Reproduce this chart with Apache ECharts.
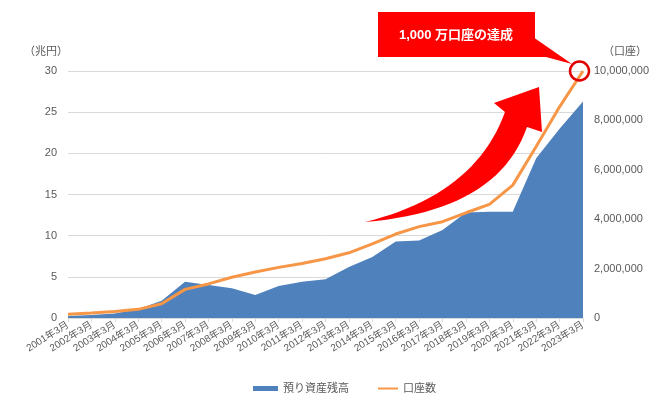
<!DOCTYPE html>
<html>
<head>
<meta charset="utf-8">
<script src="https://cdn.jsdelivr.net/npm/echarts@6/dist/echarts.min.js"></script>
<style>
html,body{margin:0;padding:0;background:#fff;}
#chart{width:667px;height:399px;}
</style>
</head>
<body>
<div id="chart"></div>
<script>
const categories = ['2001年3月','2002年3月','2003年3月','2004年3月','2005年3月','2006年3月','2007年3月','2008年3月','2009年3月','2010年3月','2011年3月','2012年3月','2013年3月','2014年3月','2015年3月','2016年3月','2017年3月','2018年3月','2019年3月','2020年3月','2021年3月','2022年3月','2023年3月'];
const assets = [0.25, 0.35, 0.55, 1.1, 2.1, 4.4, 4.0, 3.6, 2.8, 3.9, 4.4, 4.7, 6.2, 7.4, 9.3, 9.4, 10.7, 12.8, 12.9, 12.9, 19.4, 23.0, 26.3];
const accounts = [150000, 200000, 260000, 350000, 580000, 1160000, 1380000, 1650000, 1860000, 2050000, 2210000, 2400000, 2640000, 3000000, 3400000, 3700000, 3900000, 4260000, 4600000, 5380000, 6940000, 8550000, 10000000];
const leftTicks = {min: 0, max: 30, interval: 5};
const rightTicks = {min: 0, max: 10000000, interval: 2000000};
const seriesNames = ['預り資産残高', '口座数'];
const calloutText = '1,000 万口座の達成';

const FONT = '"Liberation Sans", Arial, "Noto Sans CJK JP", sans-serif';
const GREY = '#595959';
function commas(v){ return String(v).replace(/\B(?=(\d{3})+(?!\d))/g, ','); }

// decorative curved arrow outline (quadratic curves sampled into a polygon)
function quad(p0, c, p1, n){
  const pts = [];
  for (let i = 0; i <= n; i++) {
    const t = i / n, u = 1 - t;
    pts.push([u*u*p0[0] + 2*u*t*c[0] + t*t*p1[0], u*u*p0[1] + 2*u*t*c[1] + t*t*p1[1]]);
  }
  return pts;
}
const arrowPts = [].concat(
  quad([365,222], [475,195], [505,112], 24),
  [[494,103],[539,87],[542,132]],
  quad([527,127], [498,211], [365,222], 24)
);

const chart = echarts.init(document.getElementById('chart'), null, {renderer: 'canvas'});
chart.setOption({
  animation: false,
  textStyle: {fontFamily: FONT},
  grid: {left: 68, right: 84, top: 71, bottom: 81},
  legend: [
    {data: [seriesNames[0]], left: 248, top: 378, icon: 'rect', itemWidth: 25, itemHeight: 5, itemGap: 0,
     textStyle: {color: GREY, fontSize: 11, fontFamily: FONT}},
    {data: [seriesNames[1]], left: 373, top: 378, icon: 'rect', itemWidth: 20, itemHeight: 2, itemGap: 0,
     textStyle: {color: GREY, fontSize: 11, fontFamily: FONT}}
  ],
  xAxis: {
    type: 'category', data: categories, boundaryGap: false,
    axisLine: {lineStyle: {color: '#d9d9d9'}},
    axisTick: {show: true, length: 4, lineStyle: {color: '#d9d9d9'}},
    axisLabel: {interval: 0, rotate: 32, color: GREY, fontSize: 10, margin: 6, fontFamily: FONT}
  },
  yAxis: [
    {type: 'value', min: leftTicks.min, max: leftTicks.max, interval: leftTicks.interval,
     name: '（兆円）', nameLocation: 'end', nameGap: 14,
     nameTextStyle: {color: GREY, fontSize: 11, align: 'right', fontFamily: FONT},
     axisLine: {show: false}, axisTick: {show: false},
     axisLabel: {color: GREY, fontSize: 11, margin: 11, fontFamily: FONT},
     splitLine: {lineStyle: {color: '#d9d9d9'}}},
    {type: 'value', min: rightTicks.min, max: rightTicks.max, interval: rightTicks.interval,
     name: '（口座）', nameLocation: 'end', nameGap: 14,
     nameTextStyle: {color: GREY, fontSize: 11, align: 'left', padding: [0, 0, 0, 20], fontFamily: FONT},
     axisLine: {show: false}, axisTick: {show: false},
     axisLabel: {color: GREY, fontSize: 11, margin: 11, fontFamily: FONT, formatter: v => commas(v)},
     splitLine: {show: false}}
  ],
  series: [
    {name: seriesNames[0], type: 'line', yAxisIndex: 0, data: assets, symbol: 'none',
     color: '#4F81BD', lineStyle: {width: 0}, areaStyle: {color: '#4F81BD', opacity: 1}, z: 1},
    {name: seriesNames[1], type: 'line', yAxisIndex: 1, data: accounts, symbol: 'none',
     color: '#F79646', lineStyle: {width: 3, color: '#F79646'}, z: 3}
  ],
  graphic: [
    {type: 'polygon', z: 10, shape: {points: arrowPts}, style: {fill: '#FF0000'}},
    {type: 'polygon', z: 10, shape: {points: [[533,37],[572,64],[546,57],[533,57]]}, style: {fill: '#FF0000'}},
    {type: 'rect', z: 10, shape: {x: 378, y: 12, width: 157, height: 45}, style: {fill: '#FF0000'}},
    {type: 'text', z: 11, style: {x: 456, y: 35, text: calloutText, fill: '#fff', font: 'bold 13px ' + FONT, align: 'center', verticalAlign: 'middle'}},
    {type: 'circle', z: 12, shape: {cx: 579.5, cy: 71, r: 9.5}, style: {fill: 'none', stroke: '#E00000', lineWidth: 2.5}}
  ]
});
</script>
</body>
</html>
